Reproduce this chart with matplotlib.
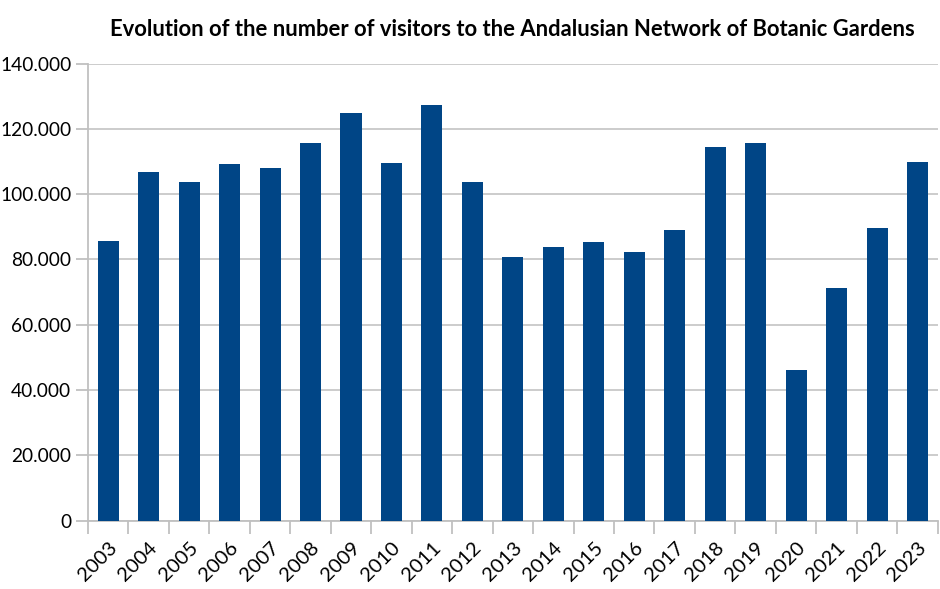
import matplotlib.pyplot as plt
import numpy as np
from matplotlib.ticker import FuncFormatter

plt.rcParams['font.family'] = ['Lato', 'DejaVu Sans']

years = ['2003', '2004', '2005', '2006', '2007', '2008', '2009', '2010', '2011', '2012', '2013',
         '2014', '2015', '2016', '2017', '2018', '2019', '2020', '2021', '2022', '2023']
visitors = [85700, 106800, 103600, 109300, 107900, 115700, 125000, 109500, 127400, 103800, 80800,
            83900, 85400, 82400, 89100, 114500, 115700, 46000, 71300, 89700, 109900]
y_ticks = [0, 20000, 40000, 60000, 80000, 100000, 120000, 140000]

fig = plt.figure(figsize=(9.4, 5.89), dpi=100)
ax = fig.add_axes([0.0936, 0.116, 0.904, 0.776])

x = np.arange(len(years))
ax.bar(x, visitors, width=0.52, color='#004586', zorder=3)

ax.set_xlim(-0.5, len(years) - 0.5)
ax.set_ylim(0, 140000)
ax.set_yticks(y_ticks)
ax.yaxis.set_major_formatter(FuncFormatter(lambda v, p: '0' if v == 0 else f'{int(v):,}'.replace(',', '.')))
ax.grid(axis='y', color='#c8c8c8', linewidth=1.3, zorder=0)

ax.set_xticks(x)
ax.set_xticklabels(years, rotation=45, ha='right', rotation_mode='anchor')
ax.set_xticks(np.arange(-0.5, len(years)), minor=True)
ax.tick_params(axis='x', which='major', length=0, pad=13, labelsize=14.5)
ax.tick_params(axis='x', which='minor', length=9, width=1.3, color='#c0c0c0')
ax.tick_params(axis='y', length=9, width=1.3, color='#c0c0c0', labelsize=13.8, pad=3)

for side in ['top', 'right']:
    ax.spines[side].set_visible(False)
for side in ['left', 'bottom']:
    ax.spines[side].set_color('#c0c0c0')
    ax.spines[side].set_linewidth(1.3)

ax.set_title('Evolution of the number of visitors to the Andalusian Network of Botanic Gardens',
             fontsize=15.8, fontweight='bold', pad=20)

plt.savefig('out.png', dpi=100)
